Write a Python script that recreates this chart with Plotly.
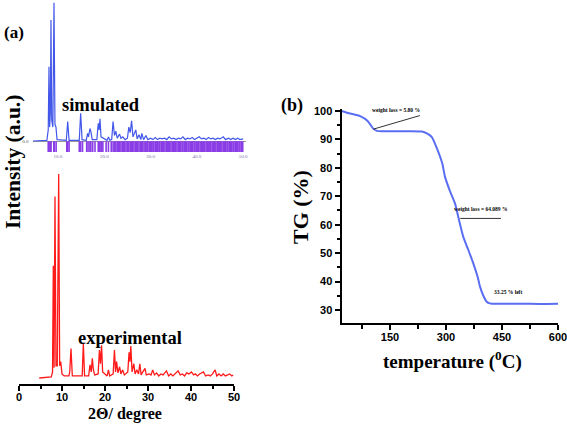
import plotly.graph_objects as go

# ---------------- data ----------------
# (a) simulated PXRD pattern (2theta, normalised intensity)
sim_x = [4.6, 7.6, 7.9, 8.06, 8.2, 8.35, 8.49, 8.65, 8.9, 9.14, 9.35, 9.57, 9.8,
         11.8, 12.1, 12.4, 14.6, 14.9, 15.2, 16.1, 16.4, 16.6, 16.9, 17.1, 17.4,
         18.4, 18.7, 18.9, 19.07, 19.3, 20.6, 20.9, 21.2, 21.6, 21.9, 22.2, 22.5,
         22.8, 23.3, 23.6, 24.0, 24.5, 25.0, 25.3, 25.6, 25.9, 26.2, 26.8, 27.1,
         27.5, 27.9, 28.1, 28.5, 29.0, 29.4, 30.0, 30.5, 31.0, 31.5, 32.0, 32.5,
         33.0, 33.5, 34.0, 34.5, 35.0, 35.5, 36.0, 36.5, 37.0, 37.5, 38.0, 38.5,
         39.0, 39.5, 40.0, 40.5, 41.0, 41.5, 42.0, 42.5, 43.0, 43.5, 44.0, 44.5,
         45.0, 45.7, 46.2, 46.8, 47.3, 47.8, 48.3, 48.8, 49.3, 50.0]
sim_y = [0, 0.5, 8, 53.5, 10, 20, 87, 15, 10, 99.5, 12, 10, 1,
         0.5, 14, 0.5, 0.5, 20, 1, 0.5, 5.5, 3, 9, 7, 1,
         1, 12.7, 8, 16, 3, 0.5, 3, 0.5, 1, 14, 4, 7,
         2, 5, 2, 3, 1, 2, 10, 6, 14.6, 3, 8, 1.5,
         4.5, 1, 5.5, 1, 4, 1, 2, 1, 2.5, 1, 2, 1.5,
         2, 1, 3, 1.5, 2, 1, 2, 1.5, 3, 1, 2, 1.5,
         2.5, 1, 2, 3, 1.5, 2, 1, 2.5, 1.5, 2, 1, 2,
         1.5, 3, 1, 2, 1, 2, 1, 2, 1, 1.5]

# calculated reflection positions (2theta)
refl_x = [7.9, 8.1, 8.4, 8.5, 9.1, 9.2, 9.6, 11.9, 12.1, 12.4, 14.6, 14.9, 15.3,
          16.2, 16.5, 16.9, 17.1, 17.5, 18.0, 18.7, 18.9, 19.1, 19.4, 19.7, 20.4,
          20.9, 21.5, 21.9, 22.2, 22.5, 22.8, 23.1, 23.3, 23.6, 23.9, 24.1, 24.4,
          24.7, 25.0, 25.3, 25.6, 25.9, 26.1, 26.4, 26.7, 27.0, 27.2, 27.5, 27.8,
          28.1, 28.3, 28.6, 28.9, 29.2, 29.4, 29.7, 30.0, 30.2, 30.5, 30.7, 31.0,
          31.3, 31.5, 31.8, 32.0, 32.3, 32.6, 32.8, 33.1, 33.4, 33.6, 33.9, 34.1,
          34.4, 34.7, 34.9, 35.2, 35.4, 35.7, 36.0, 36.2, 36.5, 36.8, 37.0, 37.3,
          37.5, 37.8, 38.1, 38.3, 38.6, 38.9, 39.1, 39.4, 39.6, 39.9, 40.2, 40.4,
          40.7, 41.0, 41.2, 41.5, 41.7, 42.0, 42.3, 42.5, 42.8, 43.0, 43.3, 43.6,
          43.8, 44.1, 44.4, 44.6, 44.9, 45.1, 45.4, 45.7, 45.9, 46.2, 46.5, 46.7,
          47.0, 47.2, 47.5, 47.8, 48.0, 48.3, 48.6, 48.8, 49.1, 49.3, 49.6, 49.9]

# (a) experimental PXRD pattern
exp_x = [4.7, 7.5, 7.8, 7.98, 8.15, 8.37, 8.6, 8.9, 9.23, 9.45, 9.7, 10.0, 10.5,
         11.6, 11.8, 12.09, 12.4, 14.7, 14.96, 15.25, 16.2, 16.5, 16.8, 17.05,
         17.3, 17.6, 18.4, 18.7, 18.95, 19.2, 19.45, 20.5, 20.8, 21.1, 21.9, 22.2,
         22.45, 22.7, 23.0, 23.4, 23.7, 24.1, 24.5, 25.3, 25.6, 25.8, 26.0, 26.3,
         26.7, 27.0, 27.4, 27.8, 28.1, 28.4, 28.8, 29.3, 29.6, 30.3, 30.7, 31.1,
         31.5, 32.0, 32.5, 33.0, 33.5, 34.3, 34.8, 35.3, 35.8, 36.3, 37.0, 37.5,
         38.0, 38.5, 39.0, 39.5, 40.1, 40.6, 41.0, 41.5, 42.0, 42.9, 43.4, 44.0,
         44.5, 45.0, 45.6, 46.0, 46.5, 47.0, 47.5, 48.0, 48.5, 49.0, 49.5, 49.8]
exp_y = [0, 0.5, 3, 55, 5, 89, 6, 6, 100, 6, 8, 2, 1,
         1, 3, 14.5, 1, 1, 17, 1, 1, 6.4, 3, 9.6,
         4, 1.5, 2, 13.7, 7, 16, 3, 1, 4, 1, 2, 13.7,
         3, 8, 2.5, 5.5, 2, 4, 1.5, 3, 12.6, 8, 15.7, 3,
         7, 2, 4, 2, 7, 1.5, 3, 4.7, 1.5, 2, 1.5, 4,
         1.5, 2.5, 1, 2, 1.5, 3.5, 1, 2, 1, 2, 3.5, 1.5,
         2, 1, 2.5, 2, 3, 1.5, 2, 1, 2, 3, 1, 1.5,
         1, 2, 4, 1, 2, 1, 2, 1, 1.5, 2, 1, 1.5]

exp_ticks = [0, 10, 20, 30, 40, 50]
sim_ticks = [10, 20, 30, 40, 50]
sim_ticklabels = ["10.0", "20.0", "30.0", "40.0", "50.0"]

# (b) TG curve
tg_T = [20, 40, 70, 90, 105, 115, 130, 180, 235, 250, 262, 275, 290, 297, 310,
        324, 335, 346, 360, 373, 385, 391, 400, 409, 415, 422, 450, 500, 550, 600]
tg_W = [100, 99.2, 98.2, 96.5, 93.8, 93.0, 92.9, 92.9, 92.8, 92.0, 90.8, 87.0,
        81.5, 77.0, 72.0, 67.5, 61.5, 55.8, 51.0, 46.4, 41.5, 38.2, 35.0, 32.9,
        32.4, 32.2, 32.2, 32.2, 32.1, 32.2]
tg_xticks = [150, 300, 450, 600]
tg_yticks = [30, 40, 50, 60, 70, 80, 90, 100]

# annotation leader lines (T, TG)
loss1_line = [(105, 93.6), (230, 98.4)]
loss2_line = [(338, 62.2), (447, 62.2)]
loss1_text = "weight loss = 5.80 %"
loss2_text = "weight loss = 64.089 %"
left_text = "33.25 % left"
loss1_pos = (165, 100.3)
loss2_pos = (392, 65.6)
left_pos = (466, 36.2)

# ---------------- layout helpers ----------------
W, H = 567, 425
def fx(p):
    return p / W
def fy(p):
    return 1 - p / H

SERIF = "Liberation Serif"
SANS = "Liberation Sans"

fig = go.Figure()

fig.add_trace(go.Scatter(x=sim_x, y=sim_y, mode="lines", xaxis="x", yaxis="y",
                         line=dict(color="#4257ea", width=1.2), showlegend=False))
fig.add_trace(go.Scatter(x=refl_x, y=[-4.2] * len(refl_x), mode="markers",
                         xaxis="x", yaxis="y", showlegend=False,
                         marker=dict(symbol="line-ns", size=8,
                                     line=dict(color="#8a3de6", width=1.6))))
fig.add_trace(go.Scatter(x=exp_x, y=exp_y, mode="lines", xaxis="x2", yaxis="y2",
                         line=dict(color="#ff1a1a", width=1.3), showlegend=False))
fig.add_trace(go.Scatter(x=tg_T, y=tg_W, mode="lines", xaxis="x3", yaxis="y3",
                         line=dict(color="#5a6ef2", width=2, shape="spline", smoothing=0.6),
                         showlegend=False))

# leader lines
for (x0, y0), (x1, y1) in [loss1_line, loss2_line]:
    fig.add_shape(type="line", xref="x3", yref="y3", x0=x0, y0=y0, x1=x1, y1=y1,
                  line=dict(color="#333333", width=1))

tick_font = dict(family=SANS, size=11, color="black", weight="bold")

fig.update_layout(
    width=W, height=H, margin=dict(l=0, r=0, t=0, b=0, autoexpand=False),
    paper_bgcolor="white", plot_bgcolor="white",
    xaxis=dict(domain=[fx(32.5), fx(245.5)], range=[4.5, 50.5], anchor="y",
               tickvals=sim_ticks, ticktext=sim_ticklabels, ticks="",
               tickfont=dict(family=SERIF, size=5, color="#7d6fa8"),
               showline=False, showgrid=False, zeroline=False, ticklabelstandoff=0,
               automargin=False),
    yaxis=dict(domain=[fy(152), fy(0.6)], range=[-7.9, 101], anchor="x",
               tickvals=[0], ticktext=["0.0"], ticks="",
               tickfont=dict(family=SERIF, size=5, color="#555555"),
               showline=False, showgrid=False, zeroline=True,
               zerolinecolor="#9a9a9a", zerolinewidth=1, ticklabelstandoff=3,
               automargin=False),
    xaxis2=dict(domain=[fx(19), fx(234)], range=[0, 50], anchor="y2",
                tickvals=exp_ticks, ticks="outside", ticklen=5, tickwidth=2,
                minor=dict(dtick=5, tick0=0, ticks="outside", ticklen=3, tickwidth=1.5),
                showline=True, linecolor="black", linewidth=2, tickcolor="black",
                tickfont=tick_font, showgrid=False, zeroline=False, automargin=False,
                ticklabeloverflow="allow", ticklabelstandoff=-3),
    yaxis2=dict(domain=[fy(384), fy(170)], range=[-2.94, 101.96], anchor="x2",
                showline=False, showticklabels=False, ticks="", showgrid=False,
                zeroline=False, automargin=False),
    xaxis3=dict(domain=[fx(341.5), fx(558.4)], range=[20, 601], anchor="y3",
                tickvals=tg_xticks, ticks="outside", ticklen=5, tickwidth=2,
                minor=dict(tickvals=[75, 225, 375, 525], ticks="outside", ticklen=4, tickwidth=1.5),
                showline=True, linecolor="black", linewidth=2, tickcolor="black",
                tickfont=tick_font, ticklabeloverflow="allow", ticklabelstandoff=-3,
                showgrid=False, zeroline=False, automargin=False),
    yaxis3=dict(domain=[fy(323.3), fy(109.3)], range=[25.3, 100.6], anchor="x3",
                tickvals=tg_yticks, ticks="outside", ticklen=5, tickwidth=2,
                minor=dict(dtick=5, tick0=0, ticks="outside", ticklen=3, tickwidth=1.5),
                showline=True, linecolor="black", linewidth=2, tickcolor="black",
                tickfont=tick_font, ticklabeloverflow="allow",
                showgrid=False, zeroline=False, automargin=False),
)

def ann(text, x, y, size, family=SERIF, angle=0, xref="paper", yref="paper", bold=True):
    fig.add_annotation(text=text, x=x, y=y, xref=xref, yref=yref, showarrow=False,
                       textangle=angle, xanchor="center", yanchor="middle",
                       font=dict(family=family, size=size, color="black",
                                 weight="bold" if bold else "normal"))

ann("(a)", fx(14), fy(33), 17)
ann("(b)", fx(292), fy(105), 18)
ann("simulated", fx(101), fy(105), 18.5)
ann("experimental", fx(130), fy(338), 18.5)
ann("Intensity (a.u.)", fx(13), fy(162), 21.5, angle=-90)
ann("2Θ/ degree", fx(125), fy(414), 16)
ann("TG (%)", fx(300), fy(207), 22, angle=-90)
ann("temperature (<sup>0</sup>C)", fx(452), fy(360), 19)
ann(loss1_text, loss1_pos[0], loss1_pos[1], 5.5, xref="x3", yref="y3")
ann(loss2_text, loss2_pos[0], loss2_pos[1], 5.5, xref="x3", yref="y3")
ann(left_text, left_pos[0], left_pos[1], 5.5, xref="x3", yref="y3")

# remove the browser's default 8px page margin so the figure sits at (0, 0)
fig.write_html("out.html", config={"displayModeBar": False},
               post_script="document.body.style.margin='0';document.body.style.overflow='hidden';")
